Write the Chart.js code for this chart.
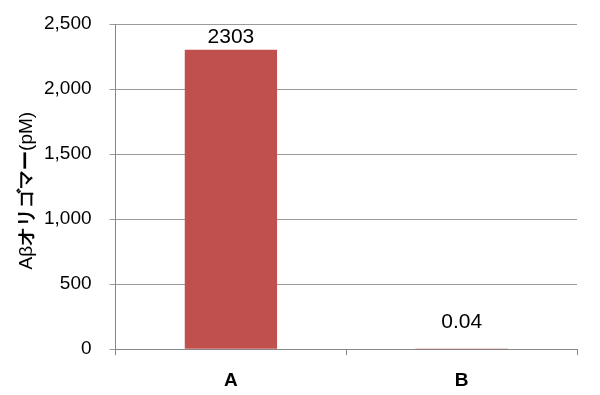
<!DOCTYPE html>
<html>
<head>
<meta charset="utf-8">
<script src="https://cdn.jsdelivr.net/npm/chart.js@4/dist/chart.umd.min.js"></script>
<style>
  html, body { margin: 0; padding: 0; background: #fff; }
  #wrap { width: 600px; height: 395px; }
</style>
</head>
<body>
<div id="wrap"><canvas id="myChart"></canvas></div>
<script>
const categories = ['A', 'B'];
const values = [2303, 0.04];
const valueLabels = ['2303', '0.04'];
const yTitleParts = [
    { text: 'Aβ', bold: false },
    { text: 'オリゴマー', bold: true },
    { text: '(pM)', bold: false }
];

const FONT = '"Liberation Sans", Arial, sans-serif';

// labels above bars, like excel's "outside end"
const valueLabelPlugin = {
    id: 'valueLabels',
    afterDatasetsDraw(chart) {
        const ctx = chart.ctx;
        const meta = chart.getDatasetMeta(0);
        const base = chart.scales.y.getPixelForValue(0);
        ctx.save();
        ctx.font = '21px ' + FONT;
        ctx.fillStyle = '#000';
        ctx.textAlign = 'center';
        ctx.textBaseline = 'middle';
        meta.data.forEach((bar, i) => {
            const y = Math.min(bar.y - 13, base - 27);
            ctx.fillText(valueLabels[i], bar.x, y);
        });
        ctx.restore();
    }
};

// y title with mixed weight
const yTitlePlugin = {
    id: 'yTitle',
    afterDraw(chart) {
        const ctx = chart.ctx;
        const area = chart.chartArea;
        ctx.save();
        let total = 0;
        yTitleParts.forEach(p => {
            ctx.font = (p.bold ? 'bold ' : '') + '19px ' + FONT;
            p.w = ctx.measureText(p.text).width;
            total += p.w;
        });
        const cy = (area.top + area.bottom) / 2 + 4;
        ctx.translate(27, cy);
        ctx.rotate(-Math.PI / 2);
        ctx.fillStyle = '#000';
        ctx.textBaseline = 'middle';
        ctx.textAlign = 'left';
        let x = -total / 2;
        yTitleParts.forEach(p => {
            ctx.font = (p.bold ? 'bold ' : '') + '19px ' + FONT;
            ctx.fillText(p.text, x, 0);
            x += p.w;
        });
        ctx.restore();
    }
};

new Chart(document.getElementById('myChart'), {
    type: 'bar',
    data: {
        labels: categories,
        datasets: [{
            data: values,
            backgroundColor: '#C0504D',
            borderWidth: 0,
            categoryPercentage: 0.4,
            barPercentage: 1
        }]
    },
    plugins: [valueLabelPlugin, yTitlePlugin],
    options: {
        responsive: true,
        maintainAspectRatio: false,
        animation: false,
        layout: { padding: { left: 26, right: 23, top: 4, bottom: -11 } },
        plugins: { legend: { display: false }, tooltip: { enabled: false } },
        scales: {
            x: {
                grid: {
                    offset: true,
                    drawOnChartArea: false,
                    drawTicks: true,
                    tickLength: 6,
                    color: '#868686'
                },
                border: { color: '#868686', width: 1 },
                ticks: {
                    color: '#000',
                    padding: 14,
                    font: { family: FONT, size: 19, weight: 'bold' }
                }
            },
            y: {
                min: 0,
                max: 2500,
                ticks: {
                    stepSize: 500,
                    color: '#000',
                    padding: 18,
                    font: { family: FONT, size: 19, lineHeight: 0.65 },
                    callback: v => v.toLocaleString('en-US')
                },
                grid: {
                    color: '#9a9a9a',
                    tickLength: 6,
                    drawTicks: true
                },
                border: { color: '#868686', width: 1 }
            }
        }
    }
});
</script>
</body>
</html>
